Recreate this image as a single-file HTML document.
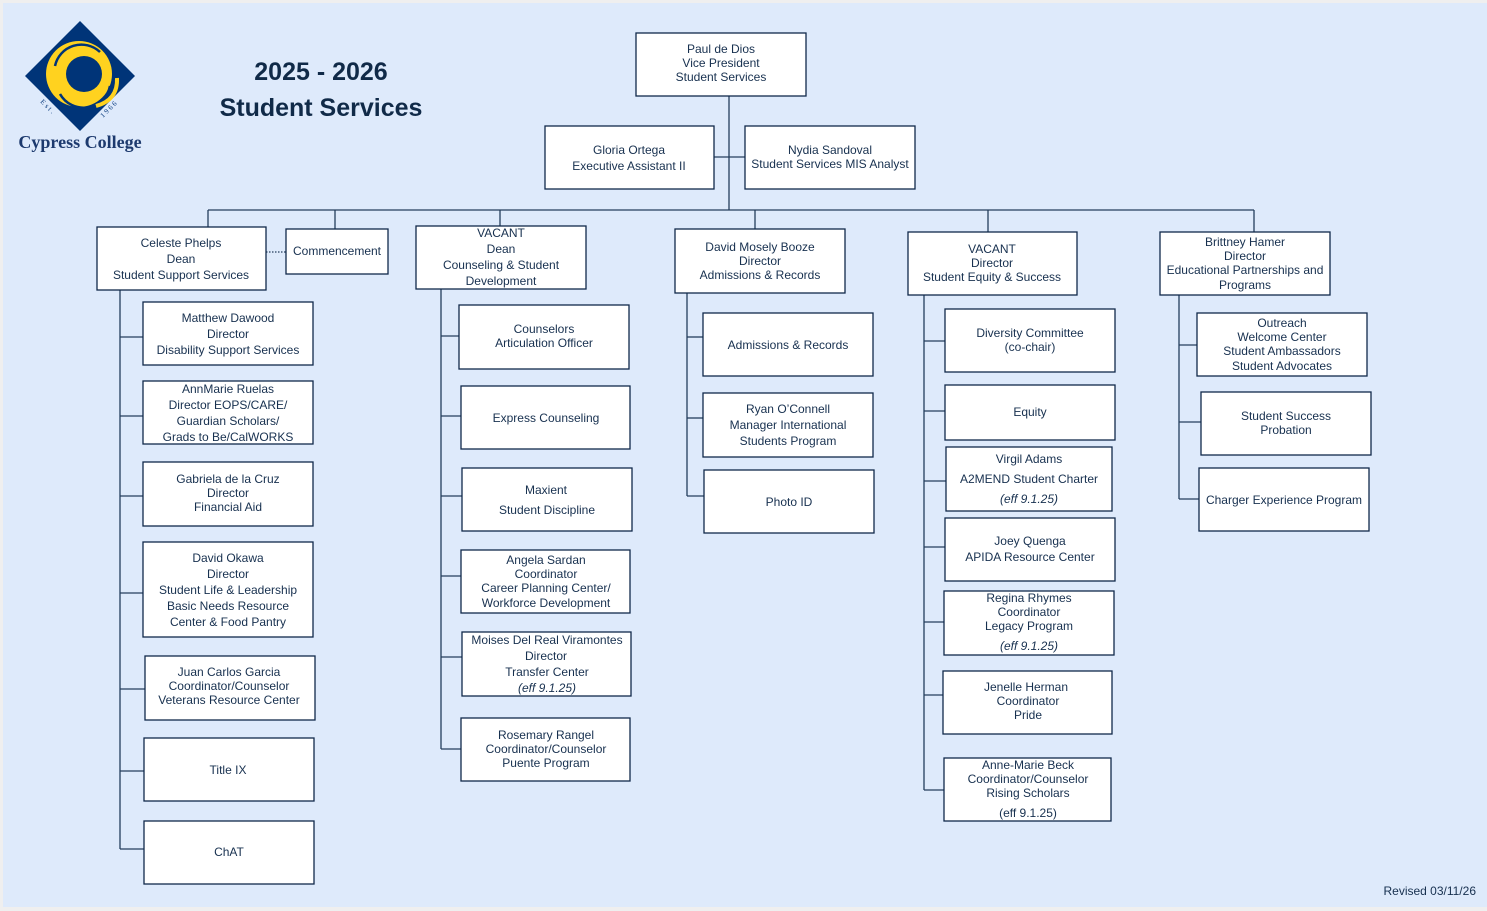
<!DOCTYPE html>
<html>
<head>
<meta charset="utf-8">
<style>
html,body{margin:0;padding:0;background:#efefef;}
body{width:1487px;height:911px;overflow:hidden;}
svg{display:block;}
text{font-family:"Liberation Sans",Arial,sans-serif;font-size:12px;fill:#17304f;}
.b{fill:#fff;stroke:#10294a;stroke-width:1.3;}
.l{stroke:#243e5c;stroke-width:1.3;fill:none;}
</style>
</head>
<body>
<svg width="1487" height="911" viewBox="0 0 1487 911" xmlns="http://www.w3.org/2000/svg">
<rect x="3" y="3" width="1484" height="904" fill="#deeafb"/>

<!-- Logo -->
<g>
  <polygon points="80,21 135,76 80,131 25,76" fill="#003478"/>
  <circle cx="79" cy="74" r="33" fill="#ffd21f"/>
  <circle cx="84" cy="74" r="18" fill="#003478"/>
  <path d="M55,66 A27,27 0 0 1 100,52" stroke="#003478" stroke-width="2.5" fill="none"/>
  <path d="M60,94 A27,27 0 0 0 110,86" stroke="#003478" stroke-width="2.5" fill="none"/>
  <path d="M96,106 Q118,100 117,78" stroke="#ffd21f" stroke-width="4" fill="none"/>
  <text x="40" y="102" transform="rotate(45 40 102)" style="font-size:7px;font-family:'Liberation Serif',serif;fill:#003478;letter-spacing:2px;">Est.</text>
  <text x="103" y="118" transform="rotate(-45 103 118)" style="font-size:7px;font-family:'Liberation Serif',serif;fill:#003478;letter-spacing:2px;">1966</text>
  <text x="80" y="148" text-anchor="middle" style="font-family:'Liberation Serif',serif;font-weight:bold;font-size:18px;fill:#1d3a6e;">Cypress College</text>
</g>

<!-- Title -->
<text x="321" y="80" text-anchor="middle" style="font-size:25px;font-weight:bold;fill:#102a48;">2025 - 2026</text>
<text x="321" y="116" text-anchor="middle" style="font-size:25px;font-weight:bold;fill:#102a48;">Student Services</text>

<!-- Connector lines -->
<g class="l">
  <line x1="729" y1="96" x2="729" y2="210"/>
  <line x1="714" y1="157" x2="745" y2="157"/>
  <line x1="208" y1="210" x2="1254" y2="210"/>
  <line x1="208" y1="210" x2="208" y2="227"/>
  <line x1="335" y1="210" x2="335" y2="229"/>
  <line x1="500" y1="210" x2="500" y2="226"/>
  <line x1="755" y1="210" x2="755" y2="229"/>
  <line x1="988" y1="210" x2="988" y2="232"/>
  <line x1="1254" y1="210" x2="1254" y2="232"/>
  <!-- col1 -->
  <line x1="120" y1="290" x2="120" y2="849"/>
  <line x1="120" y1="337" x2="143" y2="337"/>
  <line x1="120" y1="416" x2="143" y2="416"/>
  <line x1="120" y1="496" x2="143" y2="496"/>
  <line x1="120" y1="593" x2="143" y2="593"/>
  <line x1="120" y1="689" x2="145" y2="689"/>
  <line x1="120" y1="771" x2="144" y2="771"/>
  <line x1="120" y1="849" x2="144" y2="849"/>
  <!-- col2 -->
  <line x1="441" y1="289" x2="441" y2="749"/>
  <line x1="441" y1="336" x2="459" y2="336"/>
  <line x1="441" y1="416" x2="461" y2="416"/>
  <line x1="441" y1="496" x2="462" y2="496"/>
  <line x1="441" y1="576" x2="461" y2="576"/>
  <line x1="441" y1="657" x2="462" y2="657"/>
  <line x1="441" y1="749" x2="461" y2="749"/>
  <!-- col3 -->
  <line x1="687" y1="293" x2="687" y2="496"/>
  <line x1="687" y1="337" x2="703" y2="337"/>
  <line x1="687" y1="418" x2="703" y2="418"/>
  <line x1="687" y1="496" x2="704" y2="496"/>
  <!-- col4 -->
  <line x1="924" y1="295" x2="924" y2="790"/>
  <line x1="924" y1="341" x2="945" y2="341"/>
  <line x1="924" y1="411" x2="945" y2="411"/>
  <line x1="924" y1="481" x2="946" y2="481"/>
  <line x1="924" y1="547" x2="945" y2="547"/>
  <line x1="924" y1="622" x2="944" y2="622"/>
  <line x1="924" y1="695" x2="943" y2="695"/>
  <line x1="924" y1="790" x2="944" y2="790"/>
  <!-- col5 -->
  <line x1="1179" y1="295" x2="1179" y2="499"/>
  <line x1="1179" y1="345" x2="1197" y2="345"/>
  <line x1="1179" y1="422" x2="1201" y2="422"/>
  <line x1="1179" y1="499" x2="1199" y2="499"/>
</g>
<line x1="266" y1="252" x2="286" y2="252" stroke="#243e5c" stroke-width="1.2" stroke-dasharray="1.5,1.5"/>

<!-- Boxes -->
<g class="b">
  <rect x="636" y="33" width="170" height="63"/>
  <rect x="545" y="126" width="169" height="63"/>
  <rect x="745" y="126" width="170" height="63"/>
  <rect x="97" y="227" width="169" height="63"/>
  <rect x="286" y="229" width="102" height="45"/>
  <rect x="143" y="302" width="170" height="63"/>
  <rect x="143" y="381" width="170" height="63"/>
  <rect x="143" y="462" width="170" height="64"/>
  <rect x="143" y="542" width="170" height="95"/>
  <rect x="145" y="656" width="170" height="64"/>
  <rect x="144" y="738" width="170" height="63"/>
  <rect x="144" y="821" width="170" height="63"/>
  <rect x="416" y="226" width="170" height="63"/>
  <rect x="459" y="305" width="170" height="64"/>
  <rect x="461" y="386" width="169" height="63"/>
  <rect x="462" y="468" width="170" height="63"/>
  <rect x="461" y="550" width="169" height="63"/>
  <rect x="462" y="632" width="169" height="64"/>
  <rect x="461" y="718" width="169" height="63"/>
  <rect x="675" y="229" width="170" height="64"/>
  <rect x="703" y="313" width="170" height="63"/>
  <rect x="703" y="393" width="170" height="64"/>
  <rect x="704" y="470" width="170" height="63"/>
  <rect x="908" y="232" width="169" height="63"/>
  <rect x="945" y="309" width="170" height="63"/>
  <rect x="945" y="385" width="170" height="55"/>
  <rect x="946" y="447" width="166" height="64"/>
  <rect x="945" y="518" width="170" height="63"/>
  <rect x="944" y="591" width="170" height="64"/>
  <rect x="943" y="671" width="169" height="63"/>
  <rect x="944" y="758" width="167" height="63"/>
  <rect x="1160" y="232" width="170" height="63"/>
  <rect x="1197" y="313" width="170" height="63"/>
  <rect x="1201" y="392" width="170" height="63"/>
  <rect x="1199" y="468" width="170" height="63"/>
</g>

<!-- Text -->
<g text-anchor="middle">
  <text x="721" y="53">Paul de Dios</text>
  <text x="721" y="67">Vice President</text>
  <text x="721" y="81">Student Services</text>

  <text x="629" y="154">Gloria Ortega</text>
  <text x="629" y="170">Executive Assistant II</text>

  <text x="830" y="154">Nydia Sandoval</text>
  <text x="830" y="168">Student Services MIS Analyst</text>

  <text x="181" y="247">Celeste Phelps</text>
  <text x="181" y="263">Dean</text>
  <text x="181" y="279">Student Support Services</text>

  <text x="337" y="255">Commencement</text>

  <text x="228" y="322">Matthew Dawood</text>
  <text x="228" y="338">Director</text>
  <text x="228" y="354">Disability Support Services</text>

  <text x="228" y="393">AnnMarie Ruelas</text>
  <text x="228" y="409">Director EOPS/CARE/</text>
  <text x="228" y="425">Guardian Scholars/</text>
  <text x="228" y="441">Grads to Be/CalWORKS</text>

  <text x="228" y="483">Gabriela de la Cruz</text>
  <text x="228" y="497">Director</text>
  <text x="228" y="511">Financial Aid</text>

  <text x="228" y="562">David Okawa</text>
  <text x="228" y="578">Director</text>
  <text x="228" y="594">Student Life &amp; Leadership</text>
  <text x="228" y="610">Basic Needs Resource</text>
  <text x="228" y="626">Center &amp; Food Pantry</text>

  <text x="229" y="676">Juan Carlos Garcia</text>
  <text x="229" y="690">Coordinator/Counselor</text>
  <text x="229" y="704">Veterans Resource Center</text>

  <text x="228" y="774">Title IX</text>
  <text x="229" y="856">ChAT</text>

  <text x="501" y="237">VACANT</text>
  <text x="501" y="253">Dean</text>
  <text x="501" y="269">Counseling &amp; Student</text>
  <text x="501" y="285">Development</text>

  <text x="544" y="333">Counselors</text>
  <text x="544" y="347">Articulation Officer</text>

  <text x="546" y="422">Express Counseling</text>

  <text x="546" y="494">Maxient</text>
  <text x="547" y="514">Student Discipline</text>

  <text x="546" y="564">Angela Sardan</text>
  <text x="546" y="578">Coordinator</text>
  <text x="546" y="592">Career Planning Center/</text>
  <text x="546" y="607">Workforce Development</text>

  <text x="547" y="644">Moises Del Real Viramontes</text>
  <text x="546" y="660">Director</text>
  <text x="547" y="676">Transfer Center</text>
  <text x="547" y="692" font-style="italic">(eff 9.1.25)</text>

  <text x="546" y="739">Rosemary Rangel</text>
  <text x="546" y="753">Coordinator/Counselor</text>
  <text x="546" y="767">Puente Program</text>

  <text x="760" y="251">David Mosely Booze</text>
  <text x="760" y="265">Director</text>
  <text x="760" y="279">Admissions &amp; Records</text>

  <text x="788" y="349">Admissions &amp; Records</text>

  <text x="788" y="413">Ryan O’Connell</text>
  <text x="788" y="429">Manager International</text>
  <text x="788" y="445">Students Program</text>

  <text x="789" y="506">Photo ID</text>

  <text x="992" y="253">VACANT</text>
  <text x="992" y="267">Director</text>
  <text x="992" y="281">Student Equity &amp; Success</text>

  <text x="1030" y="337">Diversity Committee</text>
  <text x="1030" y="351">(co-chair)</text>

  <text x="1030" y="416">Equity</text>

  <text x="1029" y="463">Virgil Adams</text>
  <text x="1029" y="483">A2MEND Student Charter</text>
  <text x="1029" y="503" font-style="italic">(eff 9.1.25)</text>

  <text x="1030" y="545">Joey Quenga</text>
  <text x="1030" y="561">APIDA Resource Center</text>

  <text x="1029" y="602">Regina Rhymes</text>
  <text x="1029" y="616">Coordinator</text>
  <text x="1029" y="630">Legacy Program</text>
  <text x="1029" y="650" font-style="italic">(eff 9.1.25)</text>

  <text x="1026" y="691">Jenelle Herman</text>
  <text x="1028" y="705">Coordinator</text>
  <text x="1028" y="719">Pride</text>

  <text x="1028" y="769">Anne-Marie Beck</text>
  <text x="1028" y="783">Coordinator/Counselor</text>
  <text x="1028" y="797">Rising Scholars</text>
  <text x="1028" y="817">(eff 9.1.25)</text>

  <text x="1245" y="246">Brittney Hamer</text>
  <text x="1245" y="260">Director</text>
  <text x="1245" y="274">Educational Partnerships and</text>
  <text x="1245" y="289">Programs</text>

  <text x="1282" y="327">Outreach</text>
  <text x="1282" y="341">Welcome Center</text>
  <text x="1282" y="355">Student Ambassadors</text>
  <text x="1282" y="370">Student Advocates</text>

  <text x="1286" y="420">Student Success</text>
  <text x="1286" y="434">Probation</text>

  <text x="1284" y="504">Charger Experience Program</text>
</g>

<text x="1476" y="895" text-anchor="end">Revised 03/11/26</text>
</svg>
</body>
</html>
